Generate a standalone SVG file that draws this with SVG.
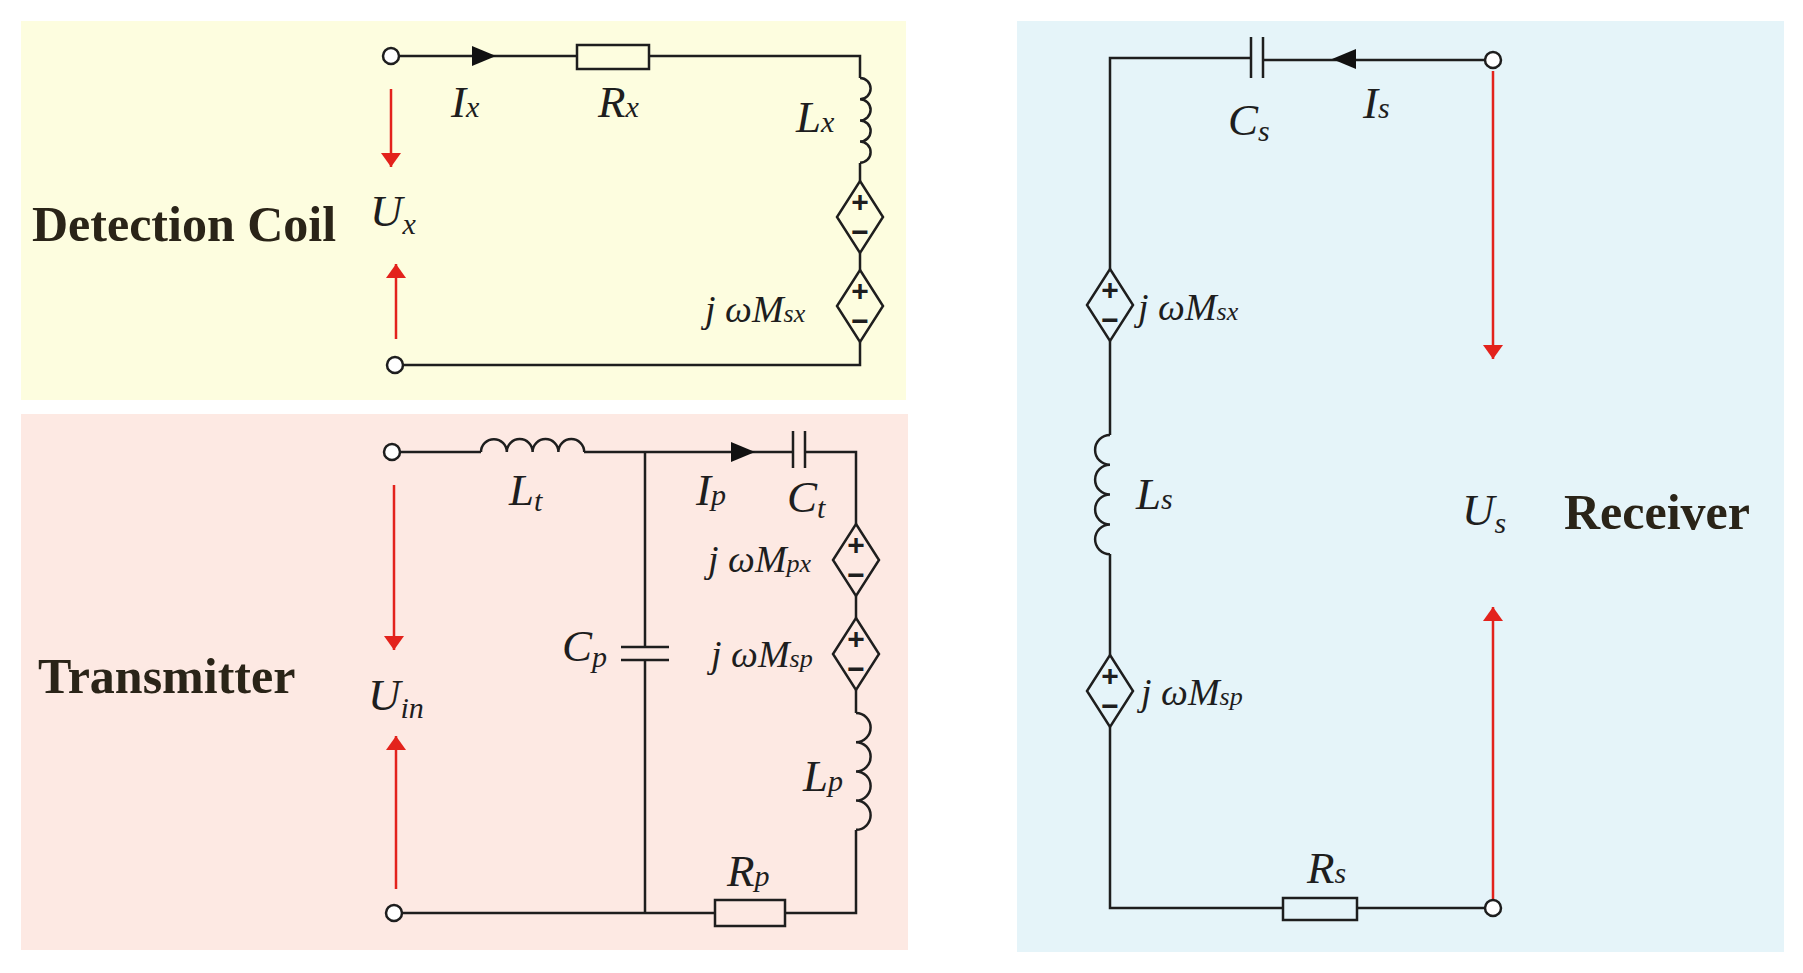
<svg xmlns="http://www.w3.org/2000/svg" width="1803" height="973" viewBox="0 0 1803 973">
<style>
.w{fill:none;stroke:#1e1e1e;stroke-width:2.5}
.r{fill:none;stroke:#e3221c;stroke-width:2.5}
.t{font-family:"Liberation Serif",serif;font-style:italic;font-size:45px;fill:#1e1e1e}
.s{font-size:30px}
.m{font-family:"Liberation Serif",serif;font-style:italic;font-size:38px;fill:#1e1e1e}
.ms{font-size:26px}
.b{font-family:"Liberation Serif",serif;font-weight:bold;font-size:50px;fill:#2a2418}
.term{fill:#fff;stroke:#1e1e1e;stroke-width:2.5}
.res{fill:none;stroke:#1e1e1e;stroke-width:2.5}
.pm{font-family:"Liberation Sans",sans-serif;font-weight:bold;font-size:30px;fill:#1e1e1e;text-anchor:middle}
</style>
<defs>
<marker id="ah" viewBox="0 0 10 10" refX="10" refY="5" markerWidth="14" markerHeight="20" markerUnits="userSpaceOnUse" orient="auto" preserveAspectRatio="none"><path d="M0,0 L10,5 L0,10 z" fill="#e3221c"/></marker>
<g id="dsrc"><polygon points="0,-36 23,0 0,36 -23,0" fill="none" stroke="#1e1e1e" stroke-width="2.5"/><text x="0" y="-5" class="pm">+</text><text x="0" y="25" class="pm">−</text></g>
</defs>
<rect x="21" y="21" width="885" height="379" fill="#fdfddf"/>
<rect x="21" y="414" width="887" height="536" fill="#fde9e3"/>
<rect x="1017" y="21" width="767" height="931" fill="#e5f4f9"/>

<g id="connectors">
<path class="w" d="M399,56 H577 M649,56 H860 V78 M860,163 V181 M860,253 V270 M860,342 V365 H403"/>
<path class="w" d="M860,78 a10.6,10.6 0 0 1 0,21.2 a10.6,10.6 0 0 1 0,21.2 a10.6,10.6 0 0 1 0,21.2 a10.6,10.6 0 0 1 0,21.2"/>
<path d="M472,46 L496,56 L472,66 z" fill="#111"/>
<line class="r" x1="391" y1="89" x2="391" y2="167" marker-end="url(#ah)"/>
<line class="r" x1="396" y1="339" x2="396" y2="264" marker-end="url(#ah)"/>
<path class="w" d="M400,452 H481 M584,452 H793 M805,452 H856 V524 M856,596 V618 M856,690 V713 M856,830 V913 H785 M715,913 H402"/>
<path class="w" d="M481,452 a12.9,12.9 0 0 1 25.8,0 a12.9,12.9 0 0 1 25.8,0 a12.9,12.9 0 0 1 25.8,0 a12.9,12.9 0 0 1 25.8,0"/>
<path class="w" d="M856,713 a14.6,14.6 0 0 1 0,29.2 a14.6,14.6 0 0 1 0,29.2 a14.6,14.6 0 0 1 0,29.2 a14.6,14.6 0 0 1 0,29.2"/>
<path class="w" d="M793,431 V468 M805,431 V468"/>
<path class="w" d="M645,452 V647 M621,647 H669 M621,660 H669 M645,660 V913"/>
<path d="M731,442 L755,452 L731,462 z" fill="#111"/>
<line class="r" x1="394" y1="485" x2="394" y2="650" marker-end="url(#ah)"/>
<line class="r" x1="396" y1="889" x2="396" y2="736" marker-end="url(#ah)"/>
<path class="w" d="M1485,60 H1263 M1251,58 H1110 V269 M1110,341 V435 M1110,554 V655 M1110,727 V908 H1283 M1357,908 H1485"/>
<path class="w" d="M1251,37 V78 M1263,37 V78"/>
<path class="w" d="M1110,435 a14.9,14.9 0 0 0 0,29.8 a14.9,14.9 0 0 0 0,29.8 a14.9,14.9 0 0 0 0,29.8 a14.9,14.9 0 0 0 0,29.8"/>
<path d="M1356,49 L1332,59 L1356,69 z" fill="#111"/>
<line class="r" x1="1493" y1="71" x2="1493" y2="359" marker-end="url(#ah)"/>
<line class="r" x1="1493" y1="903" x2="1493" y2="607" marker-end="url(#ah)"/>
</g>

<g id="terminals">
<circle class="term" cx="391" cy="56" r="8"/>
<circle class="term" cx="395" cy="365" r="8"/>
<circle class="term" cx="392" cy="452" r="8"/>
<circle class="term" cx="394" cy="913" r="8"/>
<circle class="term" cx="1493" cy="60" r="8"/>
<circle class="term" cx="1493" cy="908" r="8"/>
</g>

<g id="Rx"><rect class="res" x="577" y="45" width="72" height="24"/></g>
<g id="Rp"><rect class="res" x="715" y="900" width="70" height="26"/></g>
<g id="Rs"><rect class="res" x="1283" y="898" width="74" height="22"/></g>
<g id="src_dx1"><use href="#dsrc" x="860" y="217"/></g>
<g id="src_dx2"><use href="#dsrc" x="860" y="306"/></g>
<g id="src_px"><use href="#dsrc" x="856" y="560"/></g>
<g id="src_psp"><use href="#dsrc" x="856" y="654"/></g>
<g id="src_ssx"><use href="#dsrc" x="1110" y="305"/></g>
<g id="src_ssp"><use href="#dsrc" x="1110" y="691"/></g>

<g id="labels">
<text class="b" x="32" y="241">Detection Coil</text>
<text class="b" x="38" y="693">Transmitter</text>
<text class="b" x="1564" y="529">Receiver</text>
<text class="t" x="451" y="117">I<tspan class="s">x</tspan></text>
<text class="t" x="598" y="117">R<tspan class="s">x</tspan></text>
<text class="t" x="796" y="132">L<tspan class="s">x</tspan></text>
<text class="t" x="370" y="226">U<tspan class="s" dy="8">x</tspan></text>
<text class="m" x="705" y="322">j ωM<tspan class="ms">sx</tspan></text>
<text class="t" x="509" y="505">L<tspan class="s" dy="6">t</tspan></text>
<text class="t" x="696" y="505">I<tspan class="s">p</tspan></text>
<text class="t" x="787" y="512">C<tspan class="s" dy="6">t</tspan></text>
<text class="m" x="708" y="572">j ωM<tspan class="ms">px</tspan></text>
<text class="t" x="562" y="661">C<tspan class="s" dy="6">p</tspan></text>
<text class="m" x="711" y="667">j ωM<tspan class="ms">sp</tspan></text>
<text class="t" x="803" y="791">L<tspan class="s">p</tspan></text>
<text class="t" x="727" y="886">R<tspan class="s">p</tspan></text>
<text class="t" x="368" y="710">U<tspan class="s" dy="8">in</tspan></text>
<text class="t" x="1228" y="135">C<tspan class="s" dy="6">s</tspan></text>
<text class="t" x="1363" y="118">I<tspan class="s">s</tspan></text>
<text class="m" x="1138" y="320">j ωM<tspan class="ms">sx</tspan></text>
<text class="t" x="1136" y="509">L<tspan class="s">s</tspan></text>
<text class="m" x="1141" y="705">j ωM<tspan class="ms">sp</tspan></text>
<text class="t" x="1307" y="883">R<tspan class="s">s</tspan></text>
<text class="t" x="1462" y="525">U<tspan class="s" dy="8">s</tspan></text>
</g>
</svg>
